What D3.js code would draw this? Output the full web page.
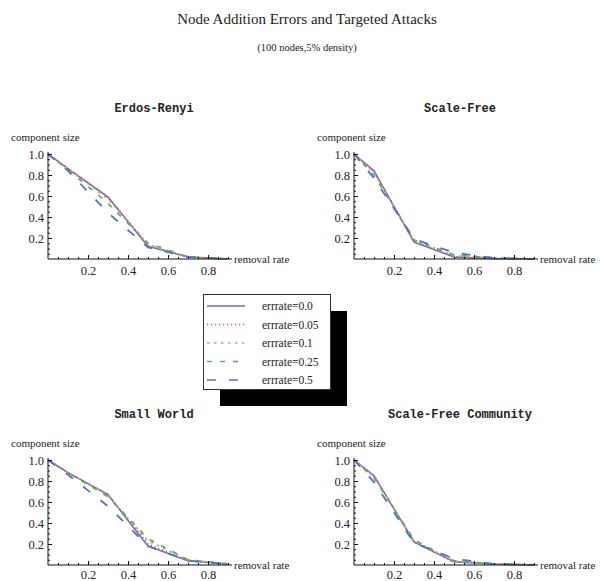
<!DOCTYPE html>
<html>
<head>
<meta charset="utf-8">
<script src="https://cdn.jsdelivr.net/npm/d3@7"></script>
<style>
  body { margin: 0; background: #fff; }
  text { font-family: "Liberation Serif", "DejaVu Serif", serif; fill: #222; }
  .ptitle { font-family: "Liberation Mono", "DejaVu Sans Mono", monospace; font-weight: bold; font-size: 12px; }
</style>
</head>
<body>
<div id="chart-area"></div>
<script>
// removal rate sampled at these points
let rates = [0, 0.1, 0.3, 0.5, 0.7, 0.9]
let errRates = ["0.0", "0.05", "0.1", "0.25", "0.5"]

// component size per network, one row per error rate
let erdosRenyi = [
  [1.0, 0.86, 0.59, 0.12, 0.02, 0.0],
  [1.0, 0.86, 0.59, 0.13, 0.02, 0.0],
  [1.0, 0.86, 0.57, 0.14, 0.02, 0.0],
  [1.0, 0.85, 0.53, 0.15, 0.02, 0.0],
  [1.0, 0.84, 0.44, 0.11, 0.02, 0.0]
]
let scaleFree = [
  [1.0, 0.84, 0.16, 0.02, 0.005, 0.0],
  [1.0, 0.83, 0.17, 0.02, 0.005, 0.0],
  [1.0, 0.82, 0.18, 0.03, 0.01, 0.0],
  [1.0, 0.80, 0.18, 0.04, 0.01, 0.0],
  [1.0, 0.77, 0.19, 0.06, 0.01, 0.0]
]
let smallWorld = [
  [1.0, 0.88, 0.67, 0.18, 0.04, 0.01],
  [1.0, 0.88, 0.67, 0.20, 0.04, 0.01],
  [1.0, 0.88, 0.66, 0.23, 0.05, 0.01],
  [1.0, 0.88, 0.65, 0.25, 0.05, 0.01],
  [1.0, 0.86, 0.56, 0.18, 0.04, 0.01]
]
let sfCommunity = [
  [1.0, 0.85, 0.22, 0.03, 0.01, 0.0],
  [1.0, 0.85, 0.22, 0.03, 0.01, 0.0],
  [1.0, 0.84, 0.23, 0.04, 0.01, 0.0],
  [1.0, 0.83, 0.24, 0.04, 0.01, 0.0],
  [1.0, 0.79, 0.21, 0.06, 0.01, 0.0]
]

let panels = [
  { name: "Erdos-Renyi", data: erdosRenyi, left: 48, base: 259, pad: 7 },
  { name: "Scale-Free", data: scaleFree, left: 354, base: 259, pad: 7 },
  { name: "Small World", data: smallWorld, left: 48, base: 565, pad: 5 },
  { name: "Scale-Free Community", data: sfCommunity, left: 354, base: 565, pad: 5 }
]

const colors = ["#7064c4", "#c8507a", "#b8b070", "#5cb060", "#5274c0"]
const dashes = [null, "1.2,2.8", "2.5,4.5", "5,8", "9,13"]

const width = 601, height = 581

const svg = d3.select("#chart-area").append("svg")
  .attr("width", width)
  .attr("height", height)

svg.append("text")
  .attr("x", 307).attr("y", 24)
  .attr("text-anchor", "middle")
  .style("font-size", "15px")
  .text("Node Addition Errors and Targeted Attacks")

svg.append("text")
  .attr("x", 307).attr("y", 51)
  .attr("text-anchor", "middle")
  .style("font-size", "10.5px")
  .text("(100 nodes,5% density)")

panels.forEach(p => drawPanel(p))

function drawPanel(p) {
  let x = d3.scaleLinear().domain([0, 1]).range([p.left, p.left + 200])
  let y = d3.scaleLinear().domain([0, 1]).range([p.base, p.base - 105])

  const g = svg.append("g")

  g.append("text")
    .attr("class", "ptitle")
    .attr("x", p.left + 106).attr("y", p.base - 147)
    .attr("text-anchor", "middle")
    .text(p.name)

  g.append("text")
    .attr("x", p.left - 37).attr("y", p.base - 118)
    .style("font-size", "11px")
    .text("component size")

  g.append("text")
    .attr("x", p.left + 186).attr("y", p.base + 4)
    .style("font-size", "11px")
    .text("removal rate")

  // curves
  let line = d3.line().x((d, i) => x(rates[i])).y(d => y(d))
  p.data.forEach((row, k) => {
    g.append("path")
      .attr("d", line(row))
      .attr("fill", "none")
      .attr("stroke", colors[k])
      .attr("stroke-width", k == 0 ? 1.5 : 1.8)
      .attr("stroke-dasharray", dashes[k])
  })

  // minor ticks
  let minorX = d3.range(0.05, 0.92, 0.05)
  let minorY = d3.range(0.05, 1.01, 0.05)
  g.append("g")
    .attr("transform", `translate(0,${p.base})`)
    .call(d3.axisBottom(x).tickValues(minorX).tickSize(-2).tickFormat(""))
    .call(a => a.select(".domain").remove())
  g.append("g")
    .attr("transform", `translate(${p.left},0)`)
    .call(d3.axisLeft(y).tickValues(minorY).tickSize(-2).tickFormat(""))
    .call(a => a.select(".domain").remove())

  // major ticks
  let xAxis = g.append("g")
    .attr("transform", `translate(0,${p.base})`)
    .call(d3.axisBottom(x).tickValues([0.2, 0.4, 0.6, 0.8]).tickSize(-4).tickPadding(p.pad)
      .tickFormat(d3.format(".1f")).tickSizeOuter(0))
  xAxis.select(".domain").attr("d", `M${x(0)},0H${x(0.92)}`)

  let yAxis = g.append("g")
    .attr("transform", `translate(${p.left},0)`)
    .call(d3.axisLeft(y).tickValues([0.2, 0.4, 0.6, 0.8, 1.0]).tickSize(-4).tickPadding(4)
      .tickFormat(d3.format(".1f")).tickSizeOuter(0))
  yAxis.select(".domain").attr("d", `M0,${y(0)}V${y(1.02)}`)

  g.selectAll(".tick text")
    .style("font-family", "'Liberation Serif', serif")
    .style("font-size", "12.5px")
    .attr("fill", "#222")
  g.selectAll(".domain, .tick line").attr("stroke", "#111")
}

// legend with drop shadow
const legend = svg.append("g")
legend.append("rect")
  .attr("x", 220).attr("y", 311).attr("width", 127).attr("height", 95)
  .attr("fill", "#000")
legend.append("rect")
  .attr("x", 203.5).attr("y", 294.5).attr("width", 127).attr("height", 95)
  .attr("fill", "#fff").attr("stroke", "#333")

let ly = d3.scalePoint().domain(errRates).range([306, 380])
errRates.forEach((e, k) => {
  legend.append("line")
    .attr("x1", 207).attr("x2", 245)
    .attr("y1", ly(e)).attr("y2", ly(e))
    .attr("stroke", colors[k])
    .attr("stroke-width", 1.6)
    .attr("stroke-dasharray", dashes[k])
  legend.append("text")
    .attr("x", 262).attr("y", ly(e) + 4)
    .style("font-size", "11.5px")
    .text("errrate=" + e)
})
</script>
</body>
</html>
